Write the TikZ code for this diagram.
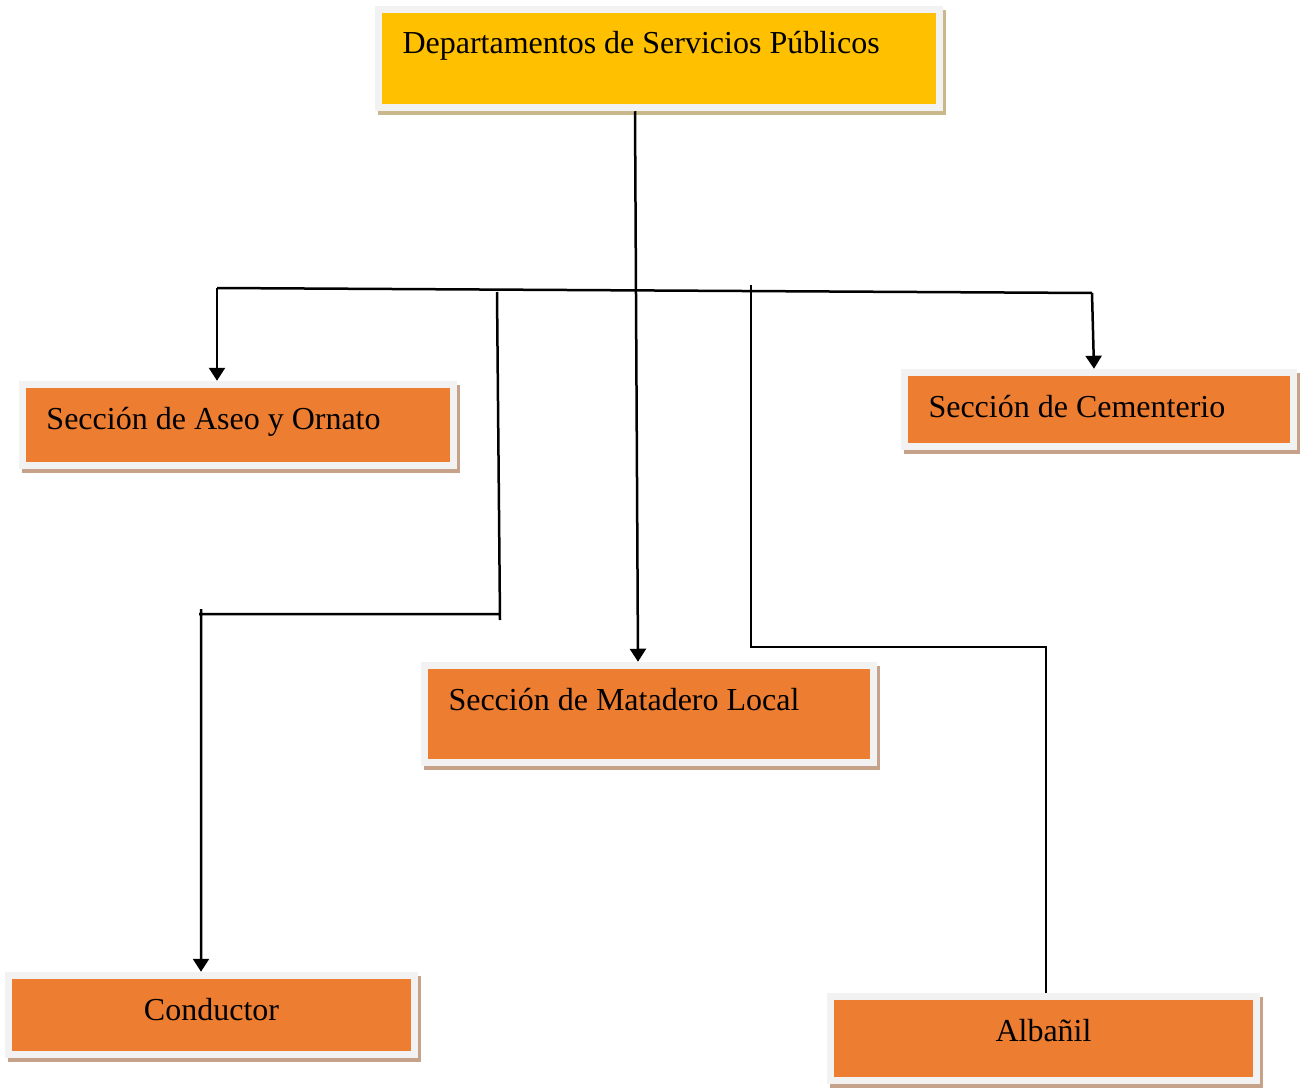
\documentclass[tikz,border=0pt]{standalone}
\usepackage{fontspec}
\setmainfont{Liberation Serif}
\usetikzlibrary{arrows.meta,calc}
\definecolor{boxgray}{HTML}{F2F2F2}
\definecolor{boxorange}{HTML}{ED7D31}
\definecolor{boxyellow}{HTML}{FFC000}
\definecolor{shadeorange}{HTML}{C6A28A}
\definecolor{shadeyellow}{HTML}{C8B88C}
\newcommand\bxl[3]{\hbox to #1pt{\vbox to #2pt{\vskip 44.5pt\hbox{\hskip 24pt\smash{#3}}\vss}\hss}}
\newcommand\bxc[3]{\vbox to #2pt{\vskip 44.5pt\hbox to #1pt{\hss\smash{#3}\hss}\vss}}
\tikzset{
  orgbox/.style={draw=boxgray, line width=7.5pt, inner sep=0pt, fill=boxorange,
    font=\fontsize{32}{38}\selectfont,
    preaction={fill=shadeorange, draw=shadeorange, line width=7.5pt,
      transform canvas={shift={(3pt,-4pt)}}}},
  topbox/.style={orgbox, fill=boxyellow,
    preaction={fill=shadeyellow, draw=shadeyellow, line width=7.5pt,
      transform canvas={shift={(3pt,-4pt)}}}},
  link/.style={draw=black, line width=2.5pt},
  arr/.style={link, -{Triangle[width=16pt,length=13pt]}}
}
\begin{document}
\begin{tikzpicture}[x=1pt,y=-1pt]
\useasboundingbox (0,0) rectangle (1302,1089);
\node[topbox] (top) at (659,58.5) {\bxl{561}{98}{Departamentos de Servicios Públicos}};
\node[orgbox] (aseo) at (238,425) {\bxl{431}{81}{Sección de Aseo y Ornato}};
\node[orgbox] (cem) at (1099,409.5) {\bxl{389}{74}{Sección de Cementerio}};
\node[orgbox] (mat) at (649,714) {\bxl{449}{97}{Sección de Matadero Local}};
\node[orgbox] (cond) at (211.5,1015) {\bxc{406}{79}{Conductor}};
\node[orgbox] (alb) at (1043.5,1038.5) {\bxc{426}{84}{Albañil}};
\coordinate (hl) at (217,288);
\coordinate (hr) at (1092,293);
\coordinate (bl) at (497,292);
\coordinate (br) at (751,285);
\draw[link] (hl) -- (hr);
\draw[arr] ($(top.south)+(-24,0)$) -- ($(mat.north)+(-11,0)$);
\draw[arr] (hl) -- ($(aseo.north)+(-21,0)$);
\draw[arr] (hr) -- ($(cem.north)+(-5,0)$);
\draw[arr] (bl) -- (500,620) (500,614) -- (199,614) (201,609) -- ($(cond.north)+(-10.5,0)$);
\draw[link] (br) -- (751,647) -- (1046,647) -- ($(alb.north)+(2.5,0)$);
\end{tikzpicture}
\end{document}
